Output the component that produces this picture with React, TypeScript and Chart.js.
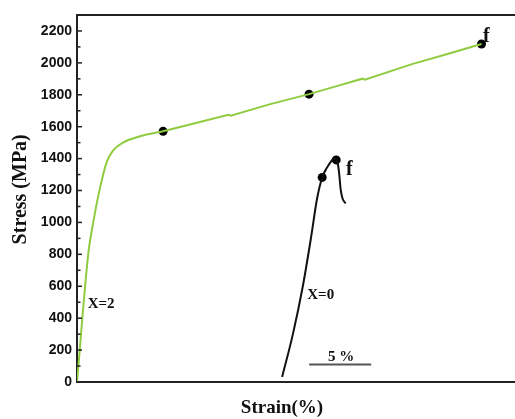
import React, { useEffect, useRef } from 'react';
import { Chart, registerables } from 'chart.js';

Chart.register(...registerables);

// ---- data ----
const yTickValues = [0, 200, 400, 600, 800, 1000, 1200, 1400, 1600, 1800, 2000, 2200];

// X=2 curve: elastic part + knee (smooth), then hardening part (nearly straight, small serrations)
const greenKneeStrain = [0, 0.22, 0.43, 0.65, 0.92, 1.35, 1.85, 2.4, 2.9, 3.7, 5.08, 6.94];
const greenKneeStress = [0, 200, 400, 597, 811, 1018, 1215, 1380, 1450, 1500, 1540, 1571];
const greenHardStrain = [6.94, 9.5, 12.2, 12.4, 15.5, 18.7, 21, 23.0, 23.2, 27, 30, 32.6];
const greenHardStress = [1571, 1622, 1675, 1669, 1740, 1804, 1856, 1901, 1895, 1992, 2059, 2118];

const blackStrain = [16.53, 17.4, 18.2, 18.85, 19.35, 19.76, 20.16, 20.45, 20.7, 20.89, 21.05, 21.15, 21.25, 21.4, 21.65];
const blackStress = [31, 300, 600, 900, 1150, 1282, 1345, 1380, 1400, 1392, 1355, 1290, 1207, 1150, 1119];

const greenDotStrain = [6.94, 18.7, 32.6];
const greenDotStress = [1571, 1804, 2118];
const blackDotStrain = [19.76, 20.89];
const blackDotStress = [1282, 1392];

const scaleBarStrain = [18.71, 23.71];
const scaleBarStress = [110, 110];

const annotationTexts = ['X=2', 'X=0', 'f', 'f', '5 %'];
const annotationStrain = [1.94, 19.64, 32.98, 21.95, 21.29];
const annotationStress = [486, 542, 2165, 1332, 157];

const xTitle = 'Strain(%)';
const yTitle = 'Stress (MPa)';

const toPoints = (xs: number[], ys: number[]) => xs.map((x, i) => ({ x, y: ys[i] }));

const GREEN = '#8fcc3f';

const overlayPlugin = {
  id: 'overlay',
  afterDraw(chart: any) {
    const { ctx, chartArea, scales } = chart;
    const xs = scales.x;
    const ys = scales.y;
    ctx.save();
    ctx.strokeStyle = '#222';
    // top frame line
    ctx.lineWidth = 2;
    ctx.beginPath();
    ctx.moveTo(chartArea.left - 1, chartArea.top);
    ctx.lineTo(chartArea.right, chartArea.top);
    ctx.stroke();
    // inward ticks on y axis
    ctx.lineWidth = 1.5;
    for (let i = 0; i < yTickValues.length; i++) {
      const py = ys.getPixelForValue(yTickValues[i]);
      ctx.beginPath();
      ctx.moveTo(chartArea.left, py);
      ctx.lineTo(chartArea.left + 5, py);
      ctx.stroke();
      if (i < yTickValues.length - 1) {
        const pm = ys.getPixelForValue((yTickValues[i] + yTickValues[i + 1]) / 2);
        ctx.beginPath();
        ctx.moveTo(chartArea.left, pm);
        ctx.lineTo(chartArea.left + 3.5, pm);
        ctx.stroke();
      }
    }
    // annotations
    ctx.fillStyle = '#111';
    ctx.textAlign = 'center';
    ctx.textBaseline = 'middle';
    for (let i = 0; i < annotationTexts.length; i++) {
      const t = annotationTexts[i];
      ctx.font = t === 'f' ? 'bold 20px "Liberation Serif"' : 'bold 15px "Liberation Serif"';
      ctx.fillText(t, xs.getPixelForValue(annotationStrain[i]), ys.getPixelForValue(annotationStress[i]));
    }
    // axis titles
    ctx.font = 'bold 19px "Liberation Serif"';
    ctx.fillText(xTitle, chartArea.left + 205, chartArea.bottom + 26);
    ctx.save();
    ctx.translate(21, chartArea.top + (chartArea.bottom - chartArea.top) * 0.475);
    ctx.rotate(-Math.PI / 2);
    ctx.font = 'bold 20px "Liberation Serif"';
    ctx.fillText(yTitle, 0, 0);
    ctx.restore();
    ctx.restore();
  },
};

export default function App() {
  const canvasRef = useRef<HTMLCanvasElement | null>(null);

  useEffect(() => {
    if (!canvasRef.current) return;
    const chart = new Chart(canvasRef.current, {
      type: 'line',
      data: {
        datasets: [
          {
            label: 'X=2 knee',
            data: toPoints(greenKneeStrain, greenKneeStress),
            borderColor: GREEN,
            borderWidth: 2,
            pointRadius: 0,
            cubicInterpolationMode: 'monotone',
            fill: false,
          },
          {
            label: 'X=2 hardening',
            data: toPoints(greenHardStrain, greenHardStress),
            borderColor: GREEN,
            borderWidth: 2,
            pointRadius: 0,
            tension: 0,
            fill: false,
          },
          {
            label: 'X=0',
            data: toPoints(blackStrain, blackStress),
            borderColor: '#111',
            borderWidth: 2,
            pointRadius: 0,
            cubicInterpolationMode: 'monotone',
            fill: false,
          },
          {
            label: 'scale',
            data: toPoints(scaleBarStrain, scaleBarStress),
            borderColor: '#555',
            borderWidth: 2,
            pointRadius: 0,
            fill: false,
          },
          {
            label: 'markers X=2',
            data: toPoints(greenDotStrain, greenDotStress),
            showLine: false,
            pointRadius: 4.5,
            pointBackgroundColor: '#000',
            pointBorderColor: '#000',
            pointBorderWidth: 0,
          },
          {
            label: 'markers X=0',
            data: toPoints(blackDotStrain, blackDotStress),
            showLine: false,
            pointRadius: 4.5,
            pointBackgroundColor: '#000',
            pointBorderColor: '#000',
            pointBorderWidth: 0,
          },
        ],
      } as any,
      options: {
        animation: false,
        responsive: false,
        maintainAspectRatio: false,
        layout: { autoPadding: false, padding: { top: 15, left: 0, right: 0, bottom: 0 } },
        plugins: {
          legend: { display: false },
          tooltip: { enabled: false },
        },
        scales: {
          x: {
            type: 'linear',
            min: 0,
            max: 35.3,
            grid: { display: false },
            border: { display: true, color: '#222', width: 2 },
            ticks: { display: false },
            afterFit: (s: any) => {
              s.height = 37;
            },
          },
          y: {
            type: 'linear',
            min: 0,
            max: 2300,
            grid: { display: false, drawTicks: false },
            border: { display: true, color: '#222', width: 2 },
            ticks: {
              padding: 5,
              color: '#111',
              font: { family: '"Liberation Sans"', size: 14, weight: 'bold' },
              callback: (v: any) => String(v),
            },
            afterBuildTicks: (s: any) => {
              s.ticks = yTickValues.map((v) => ({ value: v }));
            },
            afterFit: (s: any) => {
              s.width = 77;
            },
          },
        },
      } as any,
      plugins: [overlayPlugin],
    });
    return () => chart.destroy();
  }, []);

  return (
    <div style={{ position: 'absolute', left: 0, top: 0, width: 515, height: 419, background: '#fff' }}>
      <canvas ref={canvasRef} width={515} height={419} style={{ width: 515, height: 419 }} />
    </div>
  );
}
